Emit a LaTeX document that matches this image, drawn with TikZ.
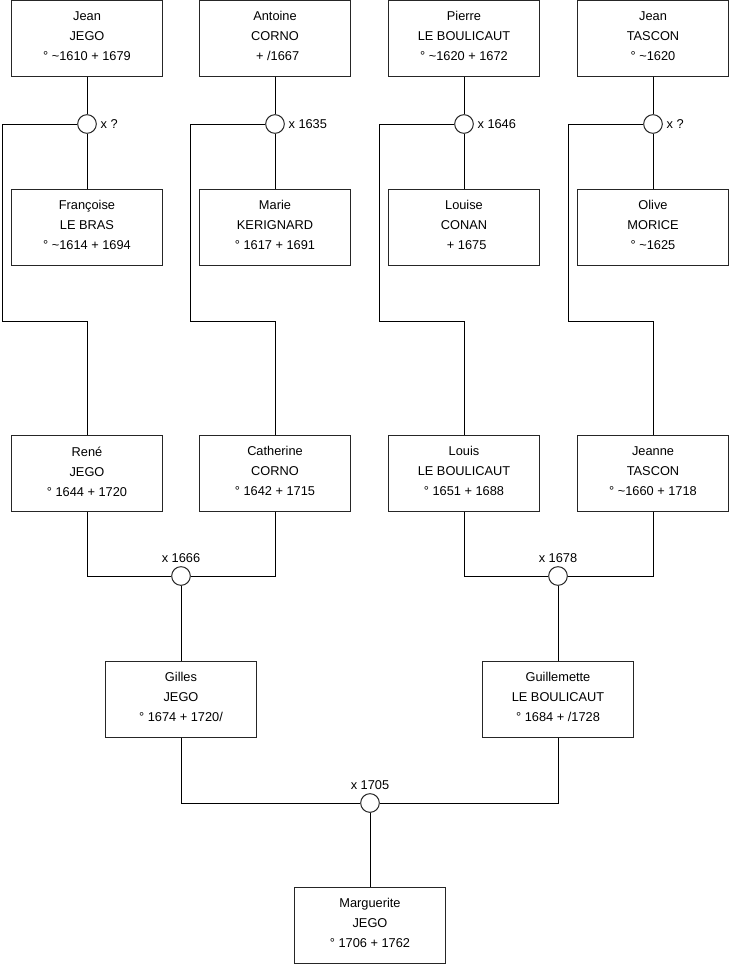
\documentclass[tikz,border=0pt]{standalone}
\usepackage{fontspec}
\setmainfont{Liberation Sans}
\usetikzlibrary{positioning}

\begin{document}
\begin{tikzpicture}[
  x=0.75pt, y=-0.75pt,
  every node/.style={font=\fontsize{9.6}{15}\selectfont},
  personbox/.style={rectangle, draw=black!85, line width=0.75pt, fill=white, minimum width=113.25pt, minimum height=57pt, align=center, inner sep=0pt, text depth=2.5pt},
  weddot/.style={circle, draw=black!85, line width=0.75pt, fill=white, minimum size=14pt, inner sep=0pt},
  wedlabel/.style={inner sep=1pt},
  link/.style={draw=black, line width=0.75pt},
]
\useasboundingbox (0,0) rectangle (740,975);

% Generation 1: grandparents' parents
\node[personbox] (jeanjego) at (87,38) {Jean\\JEGO\\° \textasciitilde1610 + 1679};
\node[personbox] (antoine) at (275,38) {Antoine\\CORNO\\\hspace*{4pt}+ /1667};
\node[personbox] (pierre) at (464,38) {Pierre\\LE BOULICAUT\\° \textasciitilde1620 + 1672};
\node[personbox] (jeantascon) at (653,38) {Jean\\TASCON\\° \textasciitilde1620};

\node[weddot] (m1) at (87,124) {};
\node[weddot] (m2) at (275,124) {};
\node[weddot] (m3) at (464,124) {};
\node[weddot] (m4) at (653,124) {};
\node[wedlabel, right=1.6pt of m1] (w1) {x ?};
\node[wedlabel, right=1.6pt of m2] (w2) {x 1635};
\node[wedlabel, right=1.6pt of m3] (w3) {x 1646};
\node[wedlabel, right=1.6pt of m4] (w4) {x ?};

\node[personbox] (francoise) at (87,227) {Françoise\\LE BRAS\\° \textasciitilde1614 + 1694};
\node[personbox] (marie) at (275,227) {Marie\\KERIGNARD\\° 1617 + 1691};
\node[personbox] (louise) at (464,227) {Louise\\CONAN\\\hspace*{4pt}+ 1675};
\node[personbox] (olive) at (653,227) {Olive\\MORICE\\° \textasciitilde1625};

% Generation 2
\node[personbox] (rene) at (87,473) {René\\JEGO\\° 1644 + 1720};
\node[personbox] (catherine) at (275,473) {Catherine\\CORNO\\° 1642 + 1715};
\node[personbox] (louis) at (464,473) {Louis\\LE BOULICAUT\\° 1651 + 1688};
\node[personbox] (jeanne) at (653,473) {Jeanne\\TASCON\\° \textasciitilde1660 + 1718};

\node[weddot] (m5) at (181,576) {};
\node[weddot] (m6) at (558,576) {};
\node[wedlabel, above=1.5pt of m5] (w5) {x 1666};
\node[wedlabel, above=1.5pt of m6] (w6) {x 1678};

% Generation 3
\node[personbox] (gilles) at (181,699) {Gilles\\JEGO\\° 1674 + 1720/};
\node[personbox] (guillemette) at (558,699) {Guillemette\\LE BOULICAUT\\° 1684 + /1728};

\node[weddot] (m7) at (370,803) {};
\node[wedlabel, above=1.5pt of m7] (w7) {x 1705};

\node[personbox] (marguerite) at (370,925) {Marguerite\\JEGO\\° 1706 + 1762};

% bends of the child lines
\coordinate (c1) at (2,321);
\coordinate (c2) at (190,321);
\coordinate (c3) at (379,321);
\coordinate (c4) at (568,321);

% couples, top row
\foreach \hus/\wed/\wif in {jeanjego/m1/francoise, antoine/m2/marie, pierre/m3/louise, jeantascon/m4/olive}{
  \draw[link] (\hus) -- (\wed);
  \draw[link] (\wed) -- (\wif);
}

% down to the children
\draw[link] (m1.west) -- (m1.west -| c1) -- (c1) -- (c1 -| rene.north) -- (rene.north);
\draw[link] (m2.west) -- (m2.west -| c2) -- (c2) -- (c2 -| catherine.north) -- (catherine.north);
\draw[link] (m3.west) -- (m3.west -| c3) -- (c3) -- (c3 -| louis.north) -- (louis.north);
\draw[link] (m4.west) -- (m4.west -| c4) -- (c4) -- (c4 -| jeanne.north) -- (jeanne.north);

% second row couples
\draw[link] (rene.south) -- (rene.south |- m5) -- (m5.west);
\draw[link] (catherine.south) -- (catherine.south |- m5) -- (m5.east);
\draw[link] (m5) -- (gilles);
\draw[link] (louis.south) -- (louis.south |- m6) -- (m6.west);
\draw[link] (jeanne.south) -- (jeanne.south |- m6) -- (m6.east);
\draw[link] (m6) -- (guillemette);

% last couple
\draw[link] (gilles.south) -- (gilles.south |- m7) -- (m7.west);
\draw[link] (guillemette.south) -- (guillemette.south |- m7) -- (m7.east);
\draw[link] (m7) -- (marguerite);

\end{tikzpicture}
\end{document}
